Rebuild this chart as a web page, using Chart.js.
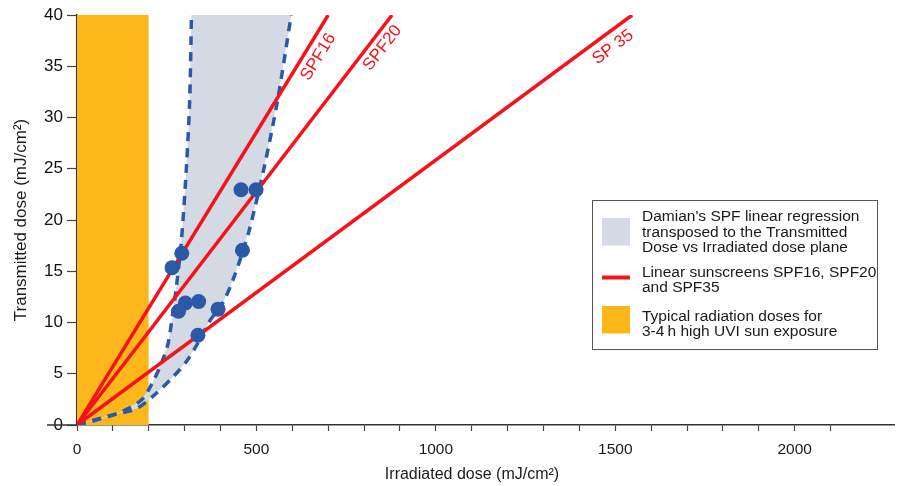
<!DOCTYPE html>
<html>
<head>
<meta charset="utf-8">
<script src="https://cdn.jsdelivr.net/npm/chart.js@4.4.1/dist/chart.umd.min.js"></script>
<style>
  html, body { margin: 0; padding: 0; background: #fff; }
</style>
</head>
<body>
<canvas id="chart" width="902" height="486"></canvas>
<script>
// values
const exposureX = [0, 200];          // typical 3-4 h high UVI dose range
const exposureY = [40, 40];

const spfNames = ['SPF16', 'SPF20', 'SP 35'];
const spfEndX = [700, 878, 1547];    // each line runs from the origin to (x, 40)
const spfEndY = [40, 40, 40];

const measuredX = [265, 292, 283, 302, 339, 393, 337, 461, 457, 499];
const measuredY = [15.35, 16.75, 11.1, 11.9, 12.05, 11.3, 8.75, 17.05, 22.95, 22.95];

const leftCurveX = [0, 64, 124, 180, 207, 235, 254, 268, 277, 291, 305, 314, 319];
const leftCurveY = [0, 0.65, 1.3, 2.45, 3.9, 6.0, 8.0, 11.2, 13.5, 18.0, 25.2, 31.7, 40];
const rightCurveX = [0, 36, 101, 166, 221, 268, 305, 337, 369, 406, 434, 457, 480, 522, 559, 597];
const rightCurveY = [0, 0.3, 0.98, 1.6, 3.1, 4.7, 6.2, 8.0, 10.1, 11.9, 14.1, 16.4, 19.0, 25.2, 31.7, 40];

const xTitle = 'Irradiated dose (mJ/cm\u00b2)';
const yTitle = 'Transmitted dose (mJ/cm\u00b2)';

const legendTexts = [
    ["Damian's SPF linear regression", 'transposed to the Transmitted', 'Dose vs Irradiated dose plane'],
    ['Linear sunscreens SPF16, SPF20', 'and SPF35'],
    ['Typical radiation doses for', '3-4\u2009h high UVI sun exposure']
];

const RED = '#f5121b';
const BLUE = '#2b59a6';
const GRAY_FILL = '#d3dae4';
const ORANGE = '#fdb71b';
const FONT = '"Liberation Sans", Arial, sans-serif';

// where each SPF label sits: fraction along its line, px below the line
const labelAlong = [0.915, 0.938, 0.95];
const labelOffset = [13.5, 12.5, 14.5];

function toPoints(xs, ys) {
    return xs.map((x, i) => ({x: x, y: ys[i]}));
}

// shaded band = left curve up, right curve back down
const bandPoints = toPoints(leftCurveX, leftCurveY).concat(toPoints(rightCurveX, rightCurveY).reverse());

const datasets = [];

// datasets listed first are drawn on top
datasets.push({
    data: toPoints(measuredX, measuredY),
    showLine: false,
    pointRadius: 7.5,
    pointBackgroundColor: BLUE,
    pointBorderWidth: 0
});

spfNames.forEach((name, i) => {
    datasets.push({
        data: [{x: 0, y: 0}, {x: spfEndX[i], y: spfEndY[i]}],
        showLine: true,
        borderColor: RED,
        borderWidth: 3.5,
        pointRadius: 0
    });
});

[[leftCurveX, leftCurveY], [rightCurveX, rightCurveY]].forEach(([xs, ys]) => {
    datasets.push({
        data: toPoints(xs, ys),
        showLine: true,
        borderColor: BLUE,
        borderWidth: 3.5,
        borderDash: [9, 7],
        tension: 0.3,
        pointRadius: 0
    });
});

datasets.push({
    data: bandPoints,
    showLine: true,
    borderWidth: 0,
    borderColor: 'rgba(0,0,0,0)',
    backgroundColor: GRAY_FILL,
    fill: 'shape',
    tension: 0,
    pointRadius: 0
});

datasets.push({
    data: toPoints(exposureX, exposureY),
    showLine: true,
    borderWidth: 0,
    borderColor: 'rgba(0,0,0,0)',
    backgroundColor: ORANGE,
    fill: 'origin',
    pointRadius: 0
});

const lineLabels = {
    id: 'lineLabels',
    afterDatasetsDraw(chart) {
        const {ctx, scales: {x, y}} = chart;
        ctx.save();
        ctx.fillStyle = RED;
        ctx.font = '17px ' + FONT;
        ctx.textAlign = 'center';
        ctx.textBaseline = 'middle';
        spfNames.forEach((name, i) => {
            const x0 = x.getPixelForValue(0), y0 = y.getPixelForValue(0);
            const x1 = x.getPixelForValue(spfEndX[i]), y1 = y.getPixelForValue(spfEndY[i]);
            const len = Math.hypot(x1 - x0, y1 - y0);
            const ux = (x1 - x0) / len, uy = (y1 - y0) / len;
            const t = labelAlong[i];
            const off = labelOffset[i];
            const cx = x0 + (x1 - x0) * t - uy * off;
            const cy = y0 + (y1 - y0) * t + ux * off;
            ctx.save();
            ctx.translate(cx, cy);
            ctx.rotate(Math.atan2(y1 - y0, x1 - x0));
            ctx.fillText(name, 0, 0);
            ctx.restore();
        });
        ctx.restore();
    }
};

const extras = {
    id: 'extras',
    afterDraw(chart) {
        const {ctx, scales: {x, y}} = chart;
        ctx.save();

        // the baseline runs a bit left of the y axis, through the 0 label
        const yz = y.getPixelForValue(0);
        ctx.strokeStyle = '#333';
        ctx.lineWidth = 1.5;
        ctx.beginPath();
        ctx.moveTo(47, yz);
        ctx.lineTo(x.left, yz);
        ctx.stroke();

        // x title sits a little left of the axis centre in the original
        ctx.fillStyle = '#1a1a1a';
        ctx.font = '16px ' + FONT;
        ctx.textAlign = 'center';
        ctx.textBaseline = 'middle';
        ctx.fillText(xTitle, 472, 475);

        // legend box
        ctx.fillStyle = '#fff';
        ctx.fillRect(592, 200, 285, 149);
        ctx.strokeStyle = '#555';
        ctx.lineWidth = 1;
        ctx.strokeRect(592.5, 200.5, 285, 149);

        ctx.fillStyle = GRAY_FILL;
        ctx.fillRect(602, 218, 28, 27.5);
        ctx.strokeStyle = RED;
        ctx.lineWidth = 4;
        ctx.beginPath();
        ctx.moveTo(602, 277.5);
        ctx.lineTo(630, 277.5);
        ctx.stroke();
        ctx.fillStyle = ORANGE;
        ctx.fillRect(602, 306, 28, 27.5);

        ctx.fillStyle = '#1a1a1a';
        ctx.font = '15.5px ' + FONT;
        ctx.textAlign = 'left';
        ctx.textBaseline = 'alphabetic';
        const baselines = [221, 276.5, 320.5];
        legendTexts.forEach((lines, i) => {
            lines.forEach((line, j) => ctx.fillText(line, 642, baselines[i] + j * 15.5));
        });
        ctx.restore();
    }
};

new Chart(document.getElementById('chart'), {
    type: 'scatter',
    data: {datasets: datasets},
    options: {
        responsive: false,
        animation: false,
        layout: {padding: {top: 15, right: 5, left: 0, bottom: 0}},
        plugins: {legend: {display: false}, tooltip: {enabled: false}},
        scales: {
            x: {
                type: 'linear',
                min: 0,
                max: 2278,
                afterBuildTicks: axis => {
                    axis.ticks = axis.ticks.filter(t => t.value % 100 === 0);
                },
                afterFit: axis => { axis.height = 61; },
                ticks: {
                    stepSize: 100,
                    autoSkip: false,
                    maxRotation: 0,
                    padding: 9,
                    color: '#1a1a1a',
                    font: {family: FONT, size: 15.5},
                    callback: v => (v % 500 === 0 ? v : '')
                },
                grid: {display: true, drawOnChartArea: false, tickLength: 6, color: '#444', tickWidth: 1.2},
                border: {color: '#333', width: 1.5},
                title: {display: false}
            },
            y: {
                min: 0,
                max: 40,
                afterFit: axis => { axis.width = 77; },
                ticks: {
                    stepSize: 5,
                    padding: 4,
                    color: '#111',
                    font: {family: FONT, size: 17}
                },
                grid: {display: true, drawOnChartArea: false, tickLength: 10, color: '#444', tickWidth: 1.2},
                border: {color: '#333', width: 1.5},
                title: {
                    display: true,
                    text: yTitle,
                    color: '#1a1a1a',
                    font: {family: FONT, size: 17},
                    padding: {top: 11, bottom: 0}
                }
            }
        }
    },
    plugins: [lineLabels, extras]
});
</script>
</body>
</html>
